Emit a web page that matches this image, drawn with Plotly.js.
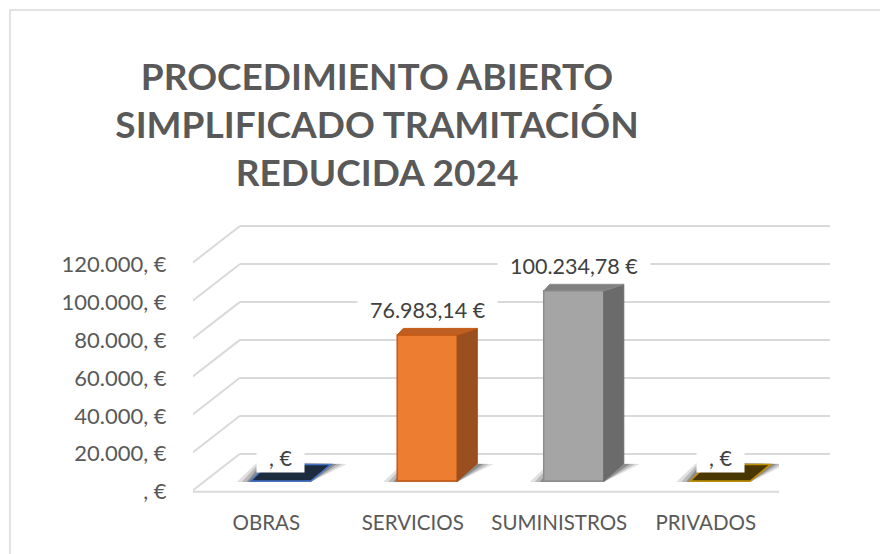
<!DOCTYPE html>
<html>
<head>
<meta charset="utf-8">
<script src="https://cdn.plot.ly/plotly-3.0.1.min.js"></script>
<style>html,body{margin:0;padding:0;background:#fff;}#chart{width:880px;height:554px;}</style>
</head>
<body>
<div id="chart"></div>
<script>
// ---- data ----
const categories = ['OBRAS', 'SERVICIOS', 'SUMINISTROS', 'PRIVADOS'];
const values = [0, 76983.14, 100234.78, 0];
const yTickValues = [0, 20000, 40000, 60000, 80000, 100000, 120000];
const chartTitle = 'PROCEDIMIENTO ABIERTO<br>SIMPLIFICADO TRAMITACIÓN<br>REDUCIDA 2024';

// ---- styles ----
const frontColors = ['#4472C4', '#ED7D31', '#A5A5A5', '#FFC000'];
const edgeColors  = ['#4472C4', '#C55A11', '#8C8C8C', '#BF9000'];
const topColors   = ['#1D2B3F', '#BD5F22', '#808080', '#4A3700'];
const sideColors  = ['#2B4A80', '#9A4F1E', '#6B6B6B', '#8A6A00'];

function fmtEuro(v) {
  const ip = Math.floor(v);
  const dec = Math.round((v - ip) * 100);
  let s = ip > 0 ? ip.toString().replace(/\B(?=(\d{3})+(?!\d))/g, '.') : '';
  s += ',';
  if (dec > 0) s += String(dec).padStart(2, '0');
  return s + ' €';
}

// ---- geometry (pixels) ----
const W = 880, H = 554;
const T = 200, B = 508;                  // vertical extent of the axes
const S = 37.95 / 20000;                 // px per unit
const frontZero = 491.7, backZero = 453.5, barZero = 481;
function yr(zero) { return [-(B - zero) / S, (zero - T) / S]; }
const domY = [1 - B / H, 1 - T / H];

const barWidth = 0.41, barOffset = -0.106;
const pxPerCat = (779 - 193) / 4;
const wPx = barWidth * pxPerCat;

const xIdx = categories.map((c, i) => i);
const font = 'Lato, "Open Sans", sans-serif';

const traces = [
  {type: 'scatter', x: [0.5], y: [null], xaxis: 'x', yaxis: 'y', hoverinfo: 'skip', showlegend: false},
  {type: 'scatter', x: [0], y: [null], xaxis: 'x2', yaxis: 'y2', hoverinfo: 'skip', showlegend: false},
  {
    type: 'bar', x: xIdx, y: values, xaxis: 'x2', yaxis: 'y3',
    width: barWidth, offset: barOffset,
    marker: {color: frontColors, line: {color: edgeColors, width: 1.5}},
    hoverinfo: 'skip', showlegend: false
  }
];

const shapes = [];
// outer frame
shapes.push({type: 'rect', xref: 'paper', yref: 'paper', x0: 10 / W, x1: 1.05, y0: -0.05, y1: 1 - 10 / H,
  line: {color: '#D9D9D9', width: 1.5}, fillcolor: 'rgba(0,0,0,0)', layer: 'below'});
// floor front edge
shapes.push({type: 'line', xref: 'x2', yref: 'y2', x0: -0.5, x1: 3.5, y0: 0, y1: 0,
  line: {color: '#D9D9D9', width: 2}, layer: 'below'});
// side wall diagonals
yTickValues.forEach(v => {
  shapes.push({type: 'path', xref: 'x2', yref: 'y2', xsizemode: 'pixel', ysizemode: 'pixel',
    xanchor: -0.5, yanchor: v, path: 'M -2,0 L 47,38', line: {color: '#D9D9D9', width: 2}, layer: 'below'});
});

// shadows, faces
values.forEach((v, i) => {
  const left = xIdx[i] + barOffset;
  const right = left + barWidth;
  [[14, 0.12], [9, 0.17], [4, 0.24]].forEach(([g, op]) => {
    shapes.push({type: 'path', xref: 'x2', yref: 'y3', xsizemode: 'pixel', ysizemode: 'pixel',
      xanchor: left, yanchor: 0,
      path: `M ${-g},${-1} L ${wPx},${-1} L ${wPx + 22 + g},${17} L ${12 - g * 0.3},${17 + g * 0.2} Z`,
      fillcolor: `rgba(0,0,0,${op})`, line: {width: 0}, layer: 'below'});
  });
  if (v > 0) {
    const h = v * S;
    shapes.push({type: 'path', xref: 'x2', yref: 'y3', xsizemode: 'pixel', ysizemode: 'pixel',
      xanchor: right, yanchor: 0,
      path: `M 0,0 L 0,${h} L 20,${h + 6.5} L 20,17.5 Z`,
      fillcolor: sideColors[i], line: {color: sideColors[i], width: 1}, layer: 'above'});
    shapes.push({type: 'path', xref: 'x2', yref: 'y3', xsizemode: 'pixel', ysizemode: 'pixel',
      xanchor: left, yanchor: v,
      path: `M 0,0 L ${wPx},0 L ${wPx + 20},6.5 L 6,6.5 Z`,
      fillcolor: topColors[i], line: {color: edgeColors[i], width: 1}, layer: 'above'});
  } else {
    shapes.push({type: 'path', xref: 'x2', yref: 'y3', xsizemode: 'pixel', ysizemode: 'pixel',
      xanchor: left, yanchor: 0,
      path: `M 0,0 L ${wPx},0 L ${wPx + 20},16.5 L 17,16.5 Z`,
      fillcolor: topColors[i], line: {color: edgeColors[i], width: 1.5}, layer: 'above'});
  }
});

const annotations = values.map((v, i) => ({
  xref: 'x2', yref: 'y3', x: xIdx[i] + barOffset + barWidth / 2, y: v,
  yshift: v > 0 ? 25 : 23, showarrow: false,
  text: '\u00a0\u00a0' + fmtEuro(v) + '\u00a0\u00a0',
  bgcolor: '#FFFFFF', borderpad: 1,
  font: {family: font, size: 21.5, color: '#404040'}
}));

const layout = {
  width: W, height: H,
  margin: {l: 0, r: 0, t: 0, b: 0},
  paper_bgcolor: '#FFFFFF', plot_bgcolor: 'rgba(0,0,0,0)',
  showlegend: false,
  title: {text: chartTitle, x: 377 / W, xanchor: 'center', xref: 'paper',
    y: 1 - 90 / H, yanchor: 'middle', yref: 'container',
    font: {family: font, size: 37, weight: 700, color: '#595959'}},
  xaxis: {domain: [240 / W, 830 / W], range: [0, 1], anchor: 'y', showgrid: false, zeroline: false,
    showline: false, showticklabels: false, ticks: '', fixedrange: true},
  yaxis: {domain: domY, range: yr(backZero), anchor: 'x', tickvals: yTickValues, showgrid: true,
    gridcolor: '#D9D9D9', gridwidth: 2, zeroline: false, showline: false, showticklabels: false, ticks: '',
    fixedrange: true},
  xaxis2: {domain: [193 / W, 779 / W], range: [-0.5, 3.5], anchor: 'y2', tickvals: xIdx, ticktext: categories,
    showgrid: false, zeroline: false, showline: false, ticks: '',
    tickfont: {family: font, size: 20.5, color: '#595959'}, fixedrange: true},
  yaxis2: {domain: domY, range: yr(frontZero), anchor: 'x2', tickvals: yTickValues,
    ticktext: yTickValues.map(fmtEuro), showgrid: false, zeroline: false, showline: false,
    ticks: 'outside', ticklen: 21, tickcolor: 'rgba(0,0,0,0)',
    tickfont: {family: font, size: 22, color: '#595959'}, fixedrange: true},
  yaxis3: {overlaying: 'y2', anchor: 'x2', range: yr(barZero), visible: false, fixedrange: true},
  shapes: shapes,
  annotations: annotations
};

Plotly.newPlot('chart', traces, layout, {displayModeBar: false, staticPlot: true});
</script>
</body>
</html>
